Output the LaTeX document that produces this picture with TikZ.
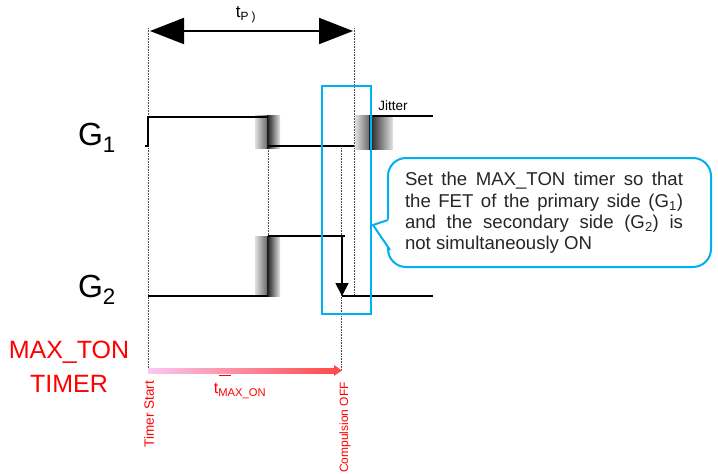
\documentclass[tikz,border=0pt]{standalone}
\usepackage{fontspec}
\setmainfont{Liberation Sans}
\usetikzlibrary{arrows.meta,positioning}

\definecolor{markblue}{RGB}{0,176,240}
\definecolor{barpink}{RGB}{250,200,240}
\definecolor{barred}{RGB}{255,75,75}

\tikzset{
  wave/.style={line width=1.8pt,black},
  guide/.style={densely dotted,gray!60!black,line width=0.6pt},
  jitterL/.style={left color=gray!25,right color=gray!85!black},
  jitterR/.style={left color=black!90,right color=gray!20},
  redtext/.style={text=red,inner sep=0pt},
  bigarrow/.style={line width=2pt,{Triangle[length=34pt,width=26pt]}-{Triangle[length=34pt,width=26pt]}},
}

\begin{document}
\begin{tikzpicture}[x=1pt,y=-1pt]
    \useasboundingbox (0,0) rectangle (718,474);

    % dotted guide lines
    \draw[guide] (148,28) -- (148,372);
    \draw[guide] (354,28) -- (354,295);
    \draw[guide] (268,148) -- (268,236);
    \draw[guide] (341,148) -- (341,370);

    % t_P
    \coordinate (tpL) at (150,31);
    \coordinate (tpR) at (353,31);
    \draw[bigarrow] (tpL) -- (tpR);
    \node[inner sep=0pt,font=\fontsize{17}{20}\selectfont] (tp) at (246,15) {t\textsubscript{P )}};

    % jitter blocks
    \shade[jitterL] (255,115) rectangle (267,148); \shade[jitterR] (267,115) rectangle (280,148);
    \shade[jitterL] (355,115) rectangle (369,149); \shade[jitterR] (369,115) rectangle (393,149);
    \shade[jitterL] (255,236) rectangle (267,296); \shade[jitterR] (267,236) rectangle (280,296);
    \node[inner sep=0pt,font=\fontsize{13.5}{16}\selectfont] (jit) at (393,106) {Jitter};

    % G1
    \node[inner sep=0pt,font=\fontsize{32}{36}\selectfont] (g1) at (97,138) {G\textsubscript{1}};
    \draw[wave] (145,146) -- (148,146) -- (148,117) -- (268,117);
    \draw[wave] (268,146) -- (354,146);
    \draw[wave] (373,116) -- (433,116);

    % G2
    \node[inner sep=0pt,font=\fontsize{32}{36}\selectfont] (g2) at (97,290) {G\textsubscript{2}};
    \draw[wave] (148,296) -- (268,296);
    \draw[wave] (268,236) -- (345,236);
    \draw[wave] (342,296) -- (433,296);
    \coordinate (offtop) at (342,236);
    \coordinate (offbot) at (342,296);
    \draw[wave,-{Triangle[length=13pt,width=13pt]}] (offtop) -- (offbot);

    % window
    \draw[markblue,line width=2.5pt] (322,86) rectangle (371,314);

    % note
    \draw[markblue,line width=2pt,rounded corners=18pt,fill=white] (388,158) rectangle (711,267);
    \coordinate (tip) at (373,225);
    \fill[white] (390,219) -- (tip) -- (391,251) -- cycle;
    \draw[markblue,line width=2pt,line join=round] (388,220) -- (tip) -- (390,250);
    \node[inner sep=0pt,text width=278pt,align=justify,
          font=\fontsize{18.6}{21.3}\selectfont,text=black!85] (note) at (544,213)
          {Set the MAX\_TON timer so that the FET of the primary side (G\textsubscript{1}) and the secondary side (G\textsubscript{2}) is\linebreak not simultaneously ON};

    % MAX_TON timer
    \node[redtext,font=\fontsize{25}{28}\selectfont] (maxton) at (69,352) {MAX\_TON};
    \node[redtext,font=\fontsize{25}{28}\selectfont,below=12pt of maxton] (timer) {TIMER};
    \coordinate (tstart) at (148,370.5);
    \coordinate (toff) at (342,370.5);
    \shade[left color=barpink,right color=barred] (148,368) rectangle (335,373);
    \fill[barred] (334,365) -- (toff) -- (334,376) -- cycle;
    \node[redtext,font=\fontsize{16}{19}\selectfont] (tmax) at (240,391) {t\textsubscript{MAX\_ON}};
    \draw[red,line width=0.6pt] (219,375.5) -- (231,375.5);
    \node[redtext,rotate=90,anchor=east,font=\fontsize{13.5}{15}\selectfont] (start) at (149,381) {Timer Start};
    \node[redtext,rotate=90,anchor=east,font=\fontsize{12}{15}\selectfont] (compoff) at (345,382) {Compulsion OFF};

\end{tikzpicture}
\end{document}
